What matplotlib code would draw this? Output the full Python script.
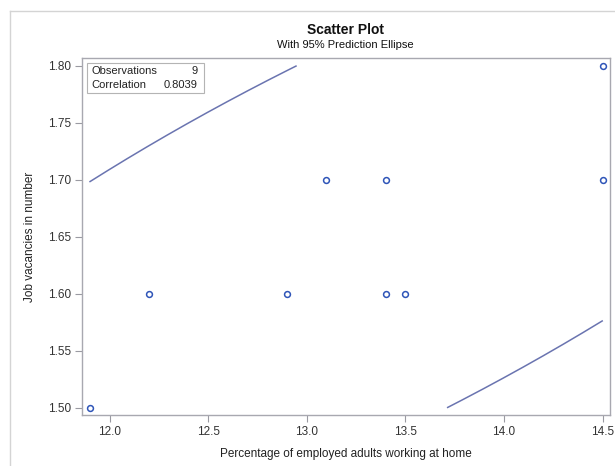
import numpy as np
import matplotlib.pyplot as plt
from matplotlib.patches import Rectangle
from matplotlib.lines import Line2D

plt.switch_backend('Agg')
plt.rcParams['font.family'] = ['Liberation Sans', 'DejaVu Sans']

# data
pct_home = [11.9, 12.2, 12.9, 13.1, 13.4, 13.4, 13.5, 14.5, 14.5]
vacancies = [1.5, 1.6, 1.6, 1.7, 1.7, 1.6, 1.6, 1.8, 1.7]
x_ticks = [12.0, 12.5, 13.0, 13.5, 14.0, 14.5]
y_ticks = [1.50, 1.55, 1.60, 1.65, 1.70, 1.75, 1.80]

x = np.array(pct_home)
y = np.array(vacancies)
n = len(x)
r = np.corrcoef(x, y)[0, 1]

# 95% prediction ellipse (F quantile with d1=2 has closed form)
alpha = 0.05
d2 = n - 2
f_q = d2 / 2 * (alpha ** (-2 / d2) - 1)
c2 = 2 * (n - 1) * (n + 1) / (n * (n - 2)) * f_q
cov = np.cov(x, y)
vals, vecs = np.linalg.eigh(cov)
t = np.linspace(0, 2 * np.pi, 4000)
circ = np.vstack([np.cos(t), np.sin(t)])
ell = vecs @ (np.sqrt(c2 * vals)[:, None] * circ)
ex = ell[0] + x.mean()
ey = ell[1] + y.mean()
outside = (ex < x.min()) | (ex > x.max()) | (ey < y.min()) | (ey > y.max())
ex[outside] = np.nan
ey[outside] = np.nan

fig = plt.figure(figsize=(6.15, 4.66), dpi=100)
ax = fig.add_axes([0.1338, 0.1094, 0.8581, 0.7651])

ax.plot(ex, ey, color='#6a74b0', linewidth=1.1)
ax.plot(x, y, linestyle='none', marker='o', markersize=4.2,
        markerfacecolor='none', markeredgecolor='#2f55b8', markeredgewidth=1.1)

ax.set_xlim(11.862, 14.538)
ax.set_ylim(1.4936, 1.8064)
ax.set_xticks(x_ticks)
ax.set_xticklabels([f'{v:.1f}' for v in x_ticks])
ax.set_yticks(y_ticks)
ax.set_yticklabels([f'{v:.2f}' for v in y_ticks])
ax.tick_params(direction='out', length=5, width=0.8, color='#9a9aa2',
               labelsize=8.5, labelcolor='#333333', pad=3)
for s in ax.spines.values():
    s.set_color('#a8a8b0')
    s.set_linewidth(1.0)

ax.set_xlabel('Percentage of employed adults working at home', fontsize=8.5,
              color='#222222', labelpad=7)
ax.set_ylabel('Job vacancies in number', fontsize=8.5, color='#222222', labelpad=9)

# statistics inset
ax.add_patch(Rectangle((0.0083, 0.9024), 0.222, 0.0858, transform=ax.transAxes,
                       facecolor='white', edgecolor='#b4b4b4', linewidth=0.8))
ax.text(0.018, 0.966, 'Observations', transform=ax.transAxes, fontsize=8,
        va='center', color='#222222')
ax.text(0.219, 0.966, f'{n}', transform=ax.transAxes, fontsize=8,
        va='center', ha='right', color='#222222')
ax.text(0.018, 0.926, 'Correlation', transform=ax.transAxes, fontsize=8,
        va='center', color='#222222')
ax.text(0.219, 0.926, f'{r:.4f}', transform=ax.transAxes, fontsize=8,
        va='center', ha='right', color='#222222')

fig.text(0.5618, 0.935, 'Scatter Plot', ha='center', va='center',
         fontsize=10, fontweight='bold', color='#111111')
fig.text(0.5618, 0.903, 'With 95% Prediction Ellipse', ha='center', va='center',
         fontsize=8, color='#111111')

# outer frame lines
fig.add_artist(Line2D([10 / 615, 1], [1 - 11 / 466, 1 - 11 / 466],
                      transform=fig.transFigure, color='#d4d4d4', linewidth=1))
fig.add_artist(Line2D([10 / 615, 10 / 615], [0, 1 - 11 / 466],
                      transform=fig.transFigure, color='#d4d4d4', linewidth=1))

fig.savefig('out.png', dpi=100)
